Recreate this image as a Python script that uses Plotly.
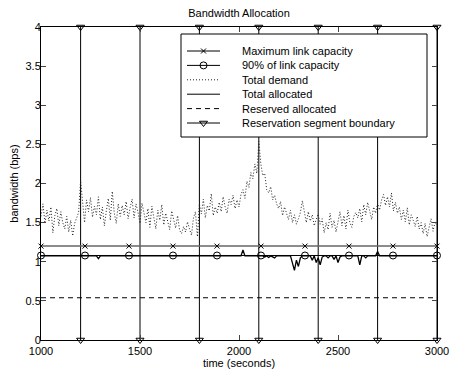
import plotly.graph_objects as go

# ---------------- data ----------------
t_start, t_step = 1000, 10
# Total demand (Mbps), one value every 10 s from 1000 to 3000
demand_mbps = [
    15.8, 17.4, 14.9, 16.6, 15.2, 17.0, 13.7, 15.9, 16.8, 14.6,
    16.4, 15.0, 14.2, 15.8, 13.8, 15.3, 13.3, 14.9, 15.6, 16.3,
    20.4, 17.6, 15.0, 17.9, 16.4, 18.2, 15.7, 17.1, 16.0, 18.3,
    15.4, 17.0, 14.6, 16.5, 18.1, 15.3, 19.0, 16.2, 14.9, 17.4,
    15.8, 17.2, 16.0, 17.7, 15.5, 16.9, 18.0, 15.6, 17.4, 16.3,
    14.9, 17.5, 16.1, 15.0, 16.8, 14.4, 17.1, 15.6, 14.2, 16.6,
    15.3, 17.3, 14.7, 16.2, 15.0, 14.1, 16.5, 15.2, 14.3, 15.9,
    14.0, 13.6, 14.5, 13.8, 15.1, 14.2, 13.4, 15.6, 16.4, 13.2,
    17.4, 16.1, 18.0, 15.6, 17.2, 16.5, 18.7, 15.9, 17.0, 16.2,
    17.6, 16.4, 18.3, 17.0, 16.2, 18.0, 17.3, 18.5, 16.8, 17.9,
    17.0, 18.6, 19.2, 18.1, 20.3, 19.5, 21.4, 20.6, 22.5, 21.3,
    25.4, 22.6, 21.0, 21.3, 19.2, 18.8, 19.6, 17.9, 18.5, 17.4,
    16.8, 17.7, 15.9, 17.0, 16.2, 15.4, 16.6, 15.0, 16.0, 14.8,
    15.5, 16.3, 17.8, 16.2, 15.0, 16.4, 15.2, 16.0, 14.6, 15.4,
    16.1, 14.8, 15.5, 13.7, 15.0, 14.1, 16.2, 14.4, 15.3, 13.8,
    15.2, 16.4, 14.6, 15.9, 14.2, 16.6, 15.0, 14.4, 15.8, 16.3,
    15.6, 16.8, 15.1, 17.3, 16.0, 17.6, 16.5, 15.4, 17.0, 16.2,
    17.5, 16.6, 17.9, 18.6, 17.2, 18.3, 17.0, 18.8, 16.5, 17.6,
    16.2, 17.0, 15.4, 16.6, 15.1, 16.9, 14.7, 16.0, 15.3, 14.5,
    15.8, 14.2, 15.0, 13.6, 14.9, 13.2, 14.4, 15.5, 13.9, 15.1,
    14.6,
]
demand_t = [t_start + t_step * i for i in range(len(demand_mbps))]

# Total allocated (Mbps) at breakpoints
alloc_t = [1000, 1280, 1290, 1300, 2010, 2020, 2030, 2120, 2130, 2140, 2150,
           2160, 2180, 2190, 2260, 2270, 2280, 2290, 2300, 2310, 2320, 2360,
           2370, 2380, 2390, 2400, 2410, 2420, 2430, 2440, 2450, 2460, 2470,
           2480, 2490, 2500, 2510, 2520, 2600, 2610, 2620, 2630, 2640, 2650,
           2690, 2700, 2710, 3000]
alloc_mbps = [10.75, 10.75, 10.4, 10.75, 10.75, 11.5, 10.75, 10.75, 10.6, 10.75, 10.55,
              10.75, 10.5, 10.75, 10.75, 9.9, 8.9, 10.2, 9.4, 10.5, 10.75, 10.75,
              10.2, 10.75, 9.9, 10.5, 9.6, 10.6, 10.75, 10.75, 10.5, 10.75, 10.75,
              10.3, 10.75, 9.9, 10.6, 10.75, 10.75, 9.6, 10.75, 10.75, 10.5, 10.75,
              10.75, 11.3, 10.75, 10.75]

# Capacity lines (markers at 10 evenly spaced times)
cap_t = [1000, 1222.2, 1444.4, 1666.7, 1888.9, 2111.1, 2333.3, 2555.6, 2777.8, 3000]
max_cap_mbps = [12.0] * len(cap_t)
cap90_mbps = [10.8] * len(cap_t)

# Reserved allocated
reserved_t = [1000, 3000]
reserved_mbps = [5.4, 5.4]

# Reservation segment boundaries
boundary_t = [1200, 1500, 1800, 2100, 2400, 2700, 3000]
y_lo, y_hi = 0, 4e7

x_ticks = [1000, 1500, 2000, 2500, 3000]
y_ticks = [0, 0.5e7, 1e7, 1.5e7, 2e7, 2.5e7, 3e7, 3.5e7, 4e7]
y_ticktext = ["0", "0.5", "1", "1.5", "2", "2.5", "3", "3.5", "4"]

legend_labels = ["Maximum link capacity", "90% of link capacity", "Total demand",
                 "Total allocated", "Reserved allocated", "Reservation segment boundary"]

M = 1e6
FONT = "Liberation Sans, Arial, Helvetica, sans-serif"
DASH = "5px,4px"
DOT = "1px,2px"

MK_X = dict(symbol="x-thin-open", size=5, color="black", line=dict(color="black", width=1))
MK_O = dict(symbol="circle-open", size=7, color="black", line=dict(color="black", width=1))
MK_V = dict(symbol="triangle-down-open", size=7, color="black", line=dict(color="black", width=1))

fig = go.Figure()

# boundaries
bx, by = [], []
for b in boundary_t:
    bx += [b, b, None]
    by += [y_lo, y_hi, None]
fig.add_trace(go.Scatter(x=bx, y=by, mode="lines+markers",
                         line=dict(color="black", width=1), marker=MK_V,
                         cliponaxis=False, showlegend=False))

fig.add_trace(go.Scatter(x=demand_t, y=[v * M for v in demand_mbps], mode="lines",
                         line=dict(color="#222", width=1, dash=DOT), showlegend=False))
fig.add_trace(go.Scatter(x=reserved_t, y=[v * M for v in reserved_mbps], mode="lines",
                         line=dict(color="black", width=1, dash=DASH), showlegend=False))
fig.add_trace(go.Scatter(x=cap_t, y=[v * M for v in max_cap_mbps], mode="lines+markers",
                         line=dict(color="#666", width=1.5), marker=MK_X,
                         cliponaxis=False, showlegend=False))
fig.add_trace(go.Scatter(x=cap_t, y=[v * M for v in cap90_mbps], mode="lines+markers",
                         line=dict(color="black", width=1), marker=MK_O,
                         cliponaxis=False, showlegend=False))
fig.add_trace(go.Scatter(x=alloc_t, y=[v * M for v in alloc_mbps], mode="lines",
                         line=dict(color="black", width=1.3), showlegend=False))

# ---------- custom legend on pixel overlay axes ----------
bx0, bx1, by0, by1 = 181, 427, 34, 137
fig.add_trace(go.Scatter(x=[bx0, bx1, bx1, bx0, bx0], y=[by0, by0, by1, by1, by0],
                         xaxis="x2", yaxis="y2", mode="lines", fill="toself",
                         fillcolor="white", line=dict(color="black", width=1),
                         showlegend=False, hoverinfo="skip"))
row_y = [51, 65.4, 79.8, 94.2, 108.6, 123]
sx0, sx1 = 187, 220
styles = [
    (dict(color="black", width=1), MK_X),
    (dict(color="black", width=1), MK_O),
    (dict(color="#222", width=1, dash=DOT), None),
    (dict(color="black", width=1), None),
    (dict(color="black", width=1, dash=DASH), None),
    (dict(color="black", width=1), MK_V),
]
for ry, (ln, mk), lab in zip(row_y, styles, legend_labels):
    fig.add_trace(go.Scatter(x=[sx0, sx1], y=[ry, ry], xaxis="x2", yaxis="y2",
                             mode="lines", line=ln, showlegend=False, hoverinfo="skip"))
    if mk is not None:
        fig.add_trace(go.Scatter(x=[(sx0 + sx1) / 2], y=[ry], xaxis="x2", yaxis="y2",
                                 mode="markers", marker=mk, showlegend=False,
                                 hoverinfo="skip"))
    fig.add_annotation(x=240, y=ry, xref="x2", yref="y2", text=lab, showarrow=False,
                       xanchor="left", yanchor="middle", font=dict(size=11, color="black"))

fig.add_annotation(x=41, y=20, xref="x2", yref="y2", text="x 10<sup>7</sup>",
                   showarrow=False, xanchor="left", yanchor="middle",
                   font=dict(size=11, color="black"))

fig.update_layout(
    width=451, height=373,
    margin=dict(l=41, r=14, t=27, b=33, autoexpand=False),
    paper_bgcolor="white", plot_bgcolor="white",
    font=dict(family=FONT, size=11, color="black"),
    title=dict(text="Bandwidth Allocation", x=0.5, xref="paper", y=1 - 13 / 373,
               yref="container", xanchor="center", yanchor="middle",
               font=dict(size=11)),
    xaxis=dict(range=[1000, 3000], tickvals=x_ticks, ticks="inside", ticklen=5,
               showline=True, linecolor="black", linewidth=1, mirror="ticks",
               showgrid=False, zeroline=False, ticklabelstandoff=1, automargin=False,
               title=dict(text="time (seconds)", standoff=0, font=dict(size=11))),
    yaxis=dict(range=[y_lo, y_hi], tickvals=y_ticks, ticktext=y_ticktext,
               ticks="inside", ticklen=5, showline=True, linecolor="black",
               linewidth=1, mirror="ticks", showgrid=False, zeroline=False,
               ticklabelstandoff=-3, automargin=False,
               title=dict(text="bandwidth (bps)", standoff=4, font=dict(size=11))),
    xaxis2=dict(range=[41, 437], overlaying="x", anchor="y2", visible=False),
    yaxis2=dict(range=[340, 27], overlaying="y", anchor="x2", visible=False),
    showlegend=False,
)

fig.write_html("out.html")
